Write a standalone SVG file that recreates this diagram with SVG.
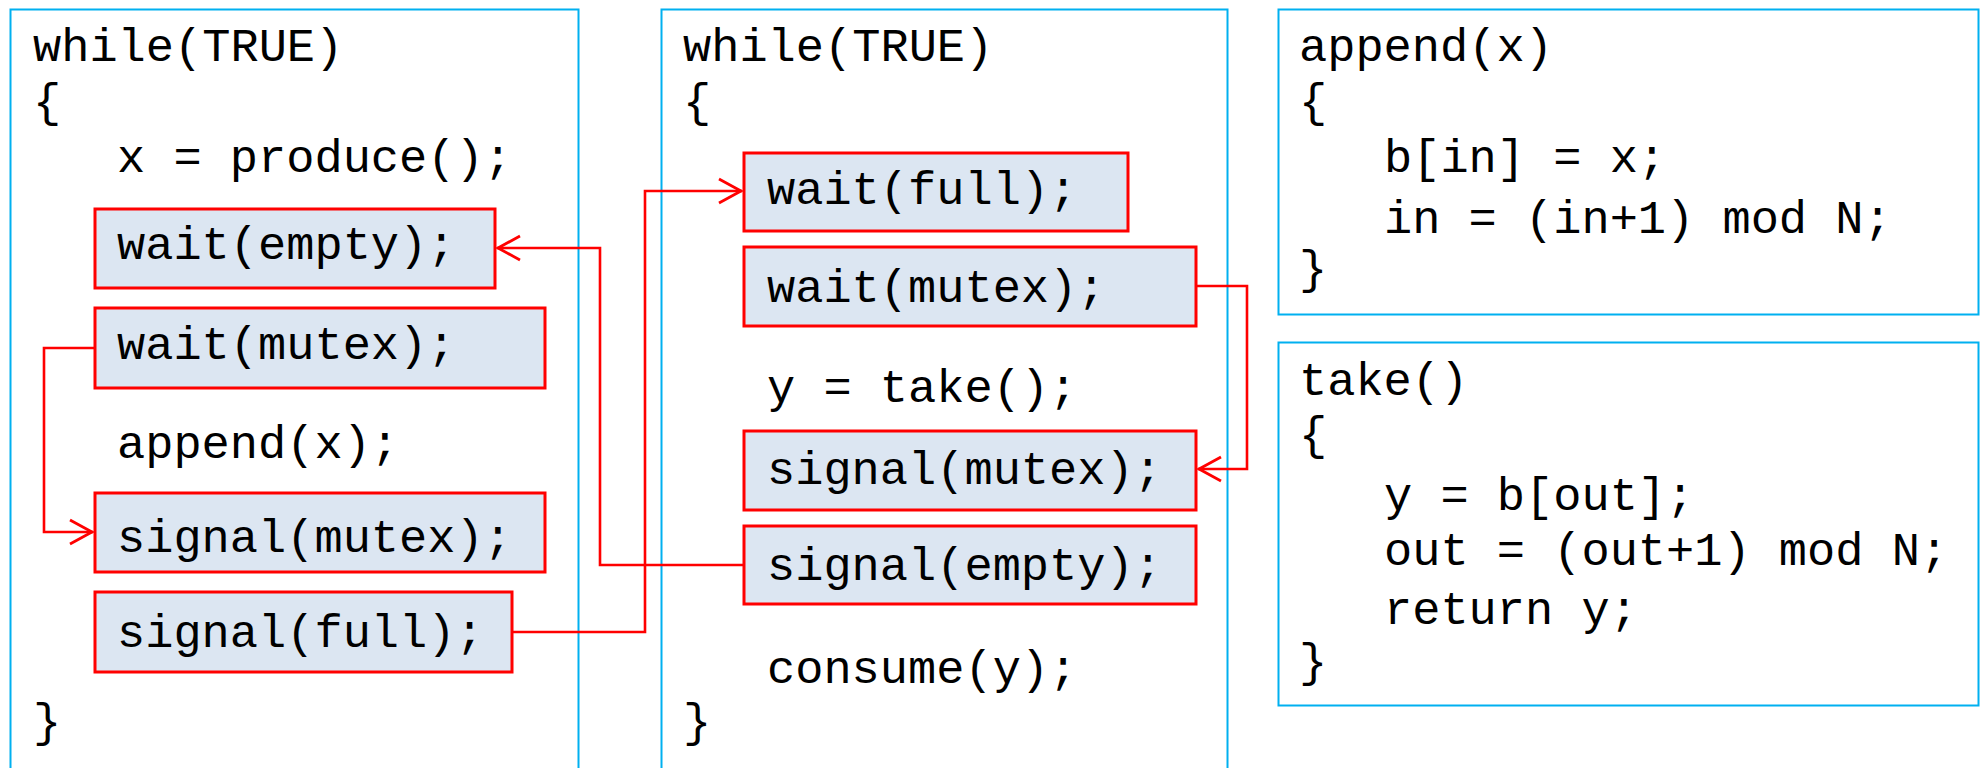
<svg xmlns="http://www.w3.org/2000/svg" width="1986" height="768" viewBox="0 0 1986 768">
<style>
.frame{fill:none;stroke:#00B0F0;stroke-width:2}
.sem{fill:#DCE6F2;stroke:#FF0000;stroke-width:3}
.code{font-family:"Liberation Mono","Courier New",monospace;font-size:47px;fill:#000}
.conn{fill:none;stroke:#FF0000;stroke-width:2.6}
</style>
<defs>
<marker id="arr" viewBox="0 0 26 28" refX="25" refY="14" markerWidth="26" markerHeight="28" markerUnits="userSpaceOnUse" orient="auto">
<path d="M2,2 L24,14 L2,26" fill="none" stroke="#FF0000" stroke-width="2.8"/>
</marker>
</defs>
<rect width="1986" height="768" fill="#FFFFFF"/>

<g id="producer">
<rect class="frame" x="10.5" y="9.5" width="568" height="780"/>
<text class="code" x="33" y="61">while(TRUE)</text>
<text class="code" x="33" y="116">{</text>
<text class="code" x="117" y="172">x = produce();</text>
<text class="code" x="33" y="736">}</text>
</g>
<g id="p_wait_empty"><rect class="sem" x="95" y="209" width="400" height="79"/><text class="code" x="117" y="259">wait(empty);</text></g>
<g id="p_wait_mutex"><rect class="sem" x="95" y="308" width="450" height="80"/><text class="code" x="117" y="359">wait(mutex);</text></g>
<g id="p_append"><text class="code" x="117" y="458">append(x);</text></g>
<g id="p_signal_mutex"><rect class="sem" x="95" y="493" width="450" height="79"/><text class="code" x="117" y="552">signal(mutex);</text></g>
<g id="p_signal_full"><rect class="sem" x="95" y="592" width="417" height="80"/><text class="code" x="117" y="647">signal(full);</text></g>

<g id="consumer">
<rect class="frame" x="661.5" y="9.5" width="566" height="780"/>
<text class="code" x="683" y="61">while(TRUE)</text>
<text class="code" x="683" y="116">{</text>
<text class="code" x="767" y="402">y = take();</text>
<text class="code" x="767" y="683">consume(y);</text>
<text class="code" x="683" y="736">}</text>
</g>
<g id="c_wait_full"><rect class="sem" x="744" y="153" width="384" height="78"/><text class="code" x="767" y="204">wait(full);</text></g>
<g id="c_wait_mutex"><rect class="sem" x="744" y="247" width="452" height="79"/><text class="code" x="767" y="302">wait(mutex);</text></g>
<g id="c_signal_mutex"><rect class="sem" x="744" y="431" width="452" height="79"/><text class="code" x="767" y="484">signal(mutex);</text></g>
<g id="c_signal_empty"><rect class="sem" x="744" y="526" width="452" height="78"/><text class="code" x="767" y="580">signal(empty);</text></g>

<g id="append_def">
<rect class="frame" x="1278.5" y="9.5" width="700" height="305"/>
<text class="code" x="1299" y="61">append(x)</text>
<text class="code" x="1299" y="116">{</text>
<text class="code" x="1384" y="172">b[in] = x;</text>
<text class="code" x="1384" y="233">in = (in+1) mod N;</text>
<text class="code" x="1299" y="283">}</text>
</g>

<g id="take_def">
<rect class="frame" x="1278.5" y="342.5" width="700" height="363"/>
<text class="code" x="1299" y="395">take()</text>
<text class="code" x="1299" y="449">{</text>
<text class="code" x="1384" y="510">y = b[out];</text>
<text class="code" x="1384" y="565">out = (out+1) mod N;</text>
<text class="code" x="1384" y="624">return y;</text>
<text class="code" x="1299" y="676">}</text>
</g>

<g id="connectors">
<path class="conn" d="M95,348 H44 V532 H93" marker-end="url(#arr)"/>
<path class="conn" d="M512,632 H645 V191 H742" marker-end="url(#arr)"/>
<path class="conn" d="M1196,286 H1247 V469 H1198" marker-end="url(#arr)"/>
<path class="conn" d="M744,565 H600 V248 H497" marker-end="url(#arr)"/>
</g>
</svg>
